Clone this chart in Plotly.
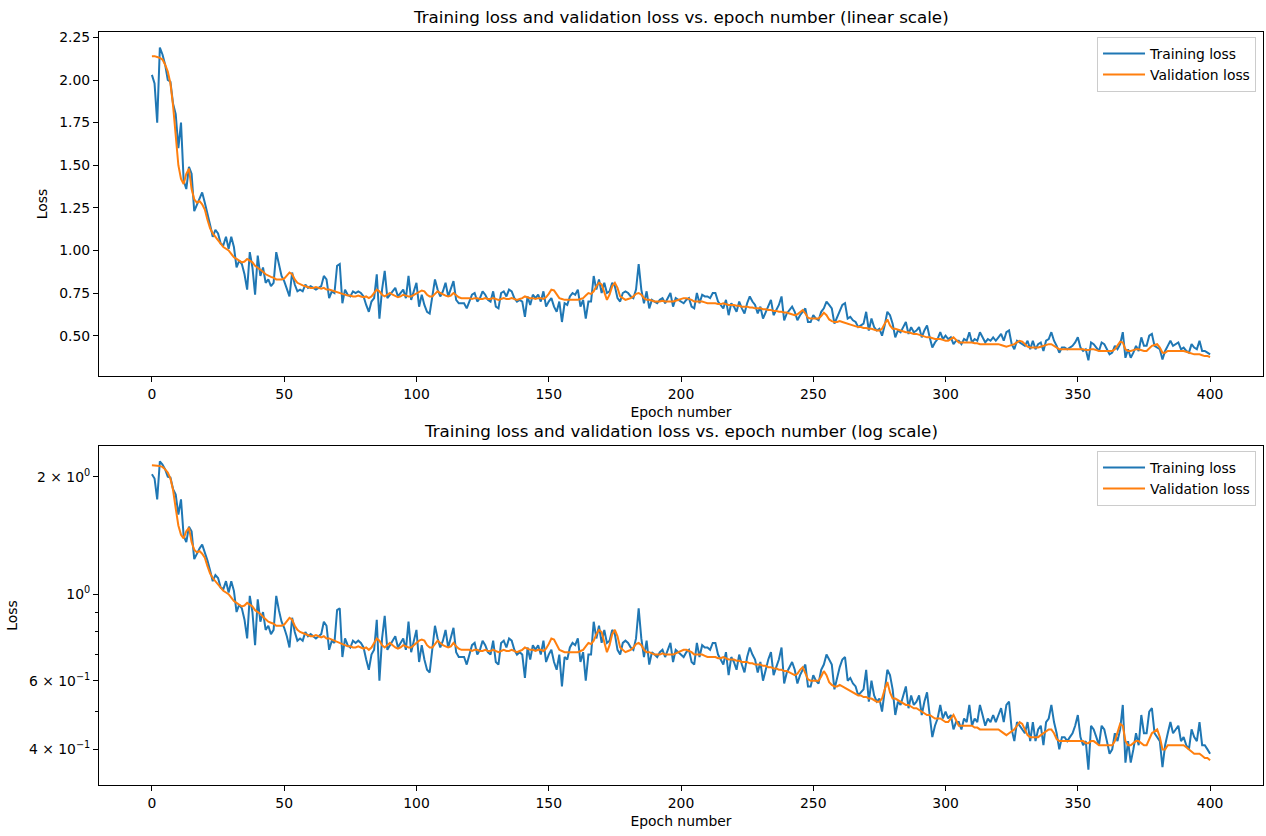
import math
import plotly.graph_objects as go

# Per-epoch loss values (epochs 0..400)
training_loss = [
    2.03, 1.98, 1.75, 2.19, 2.15, 2.09, 2.00, 1.99, 1.86, 1.80,
    1.60, 1.75, 1.41, 1.36, 1.49, 1.45, 1.23, 1.27, 1.31, 1.34,
    1.28, 1.22, 1.15, 1.08, 1.12, 1.10, 1.04, 1.03, 1.08, 1.01,
    1.08, 1.02, 0.90, 0.94, 0.92, 0.86, 0.77, 0.99, 0.90, 0.74,
    0.97, 0.85, 0.90, 0.81, 0.83, 0.79, 0.81, 0.99, 0.91, 0.85,
    0.82, 0.78, 0.73, 0.87, 0.80, 0.76, 0.77, 0.76, 0.80, 0.78,
    0.79, 0.78, 0.77, 0.78, 0.79, 0.85, 0.83, 0.72, 0.76, 0.75,
    0.91, 0.92, 0.69, 0.77, 0.74, 0.73, 0.76, 0.75, 0.76, 0.75,
    0.73, 0.68, 0.64, 0.70, 0.72, 0.86, 0.60, 0.77, 0.88, 0.72,
    0.74, 0.76, 0.78, 0.73, 0.75, 0.77, 0.72, 0.85, 0.71, 0.76,
    0.81, 0.67, 0.74, 0.68, 0.64, 0.63, 0.72, 0.83, 0.77, 0.73,
    0.76, 0.81, 0.73, 0.77, 0.82, 0.71, 0.69, 0.69, 0.69, 0.66,
    0.70, 0.74, 0.75, 0.70, 0.72, 0.76, 0.74, 0.71, 0.70, 0.76,
    0.67, 0.66, 0.75, 0.76, 0.73, 0.77, 0.76, 0.72, 0.70, 0.71,
    0.70, 0.61, 0.73, 0.68, 0.74, 0.72, 0.74, 0.70, 0.76, 0.67,
    0.70, 0.72, 0.67, 0.64, 0.70, 0.58, 0.69, 0.68, 0.73, 0.75,
    0.74, 0.77, 0.67, 0.71, 0.60, 0.70, 0.70, 0.85, 0.77, 0.83,
    0.75, 0.81, 0.75, 0.76, 0.81, 0.79, 0.72, 0.70, 0.75, 0.76,
    0.75, 0.73, 0.72, 0.77, 0.92, 0.77, 0.69, 0.76, 0.66, 0.71,
    0.70, 0.69, 0.71, 0.72, 0.69, 0.72, 0.75, 0.67, 0.72, 0.71,
    0.70, 0.69, 0.71, 0.72, 0.67, 0.66, 0.75, 0.69, 0.74, 0.73,
    0.73, 0.72, 0.75, 0.75, 0.70, 0.68, 0.66, 0.71, 0.62, 0.69,
    0.67, 0.64, 0.70, 0.66, 0.63, 0.69, 0.73, 0.70, 0.68, 0.63,
    0.67, 0.60, 0.64, 0.68, 0.71, 0.62, 0.65, 0.68, 0.73, 0.59,
    0.63, 0.65, 0.67, 0.64, 0.59, 0.62, 0.64, 0.66, 0.58, 0.58,
    0.62, 0.60, 0.59, 0.64, 0.66, 0.70, 0.68, 0.66, 0.57, 0.61,
    0.65, 0.68, 0.69, 0.60, 0.61, 0.59, 0.58, 0.55, 0.56, 0.57,
    0.64, 0.53, 0.60, 0.55, 0.53, 0.54, 0.50, 0.56, 0.64, 0.62,
    0.57, 0.49, 0.53, 0.52, 0.55, 0.58, 0.51, 0.55, 0.52, 0.53,
    0.55, 0.49, 0.53, 0.56, 0.49, 0.43, 0.46, 0.48, 0.52, 0.48,
    0.50, 0.48, 0.49, 0.45, 0.47, 0.47, 0.45, 0.48, 0.47, 0.52,
    0.46, 0.48, 0.47, 0.52, 0.49, 0.46, 0.48, 0.47, 0.49, 0.47,
    0.49, 0.51, 0.47, 0.52, 0.53, 0.45, 0.42, 0.47, 0.46, 0.45,
    0.44, 0.47, 0.42, 0.47, 0.42, 0.45, 0.46, 0.41, 0.47, 0.48,
    0.52, 0.47, 0.44, 0.40, 0.43, 0.43, 0.42, 0.43, 0.44, 0.46,
    0.49, 0.43, 0.41, 0.42, 0.355, 0.46, 0.45, 0.43, 0.41, 0.46,
    0.45, 0.42, 0.39, 0.40, 0.44, 0.42, 0.45, 0.52, 0.37, 0.42,
    0.37, 0.40, 0.44, 0.41, 0.49, 0.44, 0.44, 0.50, 0.51, 0.44,
    0.43, 0.42, 0.36, 0.41, 0.44, 0.47, 0.44, 0.45, 0.46, 0.42,
    0.43, 0.41, 0.40, 0.45, 0.43, 0.42, 0.47, 0.41, 0.41, 0.40,
    0.39,
]

validation_loss = [
    2.14, 2.14, 2.135, 2.13, 2.12, 2.09, 2.05, 1.98, 1.85, 1.66,
    1.50, 1.42, 1.39, 1.45, 1.48, 1.36, 1.30, 1.28, 1.29, 1.27,
    1.24, 1.18, 1.13, 1.10, 1.08, 1.06, 1.04, 1.02, 1.01, 1.00,
    0.98, 0.96, 0.95, 0.94, 0.93, 0.935, 0.95, 0.94, 0.93, 0.91,
    0.90, 0.89, 0.875, 0.86, 0.85, 0.845, 0.84, 0.83, 0.83, 0.83,
    0.835, 0.85, 0.87, 0.86, 0.83, 0.81, 0.80, 0.795, 0.79, 0.785,
    0.78, 0.78, 0.785, 0.78, 0.775, 0.78, 0.77, 0.77, 0.765, 0.76,
    0.755, 0.75, 0.745, 0.74, 0.735, 0.735, 0.73, 0.73, 0.735, 0.73,
    0.725, 0.73, 0.72, 0.73, 0.75, 0.77, 0.76, 0.74, 0.73, 0.74,
    0.75, 0.74, 0.73, 0.725, 0.73, 0.74, 0.735, 0.73, 0.73, 0.74,
    0.75, 0.76, 0.765, 0.76, 0.74, 0.73, 0.73, 0.745, 0.76, 0.75,
    0.74, 0.735, 0.73, 0.735, 0.75, 0.735, 0.725, 0.72, 0.72, 0.72,
    0.72, 0.715, 0.72, 0.72, 0.715, 0.715, 0.72, 0.715, 0.715, 0.72,
    0.715, 0.71, 0.715, 0.72, 0.715, 0.715, 0.72, 0.715, 0.71, 0.715,
    0.72, 0.73, 0.725, 0.72, 0.72, 0.715, 0.72, 0.72, 0.715, 0.725,
    0.745, 0.77, 0.765, 0.74, 0.72, 0.715, 0.71, 0.71, 0.71, 0.71,
    0.71, 0.71, 0.715, 0.72, 0.735, 0.75, 0.745, 0.76, 0.79, 0.81,
    0.80, 0.75, 0.71, 0.74, 0.79, 0.81, 0.78, 0.73, 0.72, 0.71,
    0.715, 0.72, 0.73, 0.745, 0.75, 0.74, 0.72, 0.71, 0.71, 0.705,
    0.70, 0.70, 0.70, 0.705, 0.70, 0.70, 0.70, 0.70, 0.705, 0.71,
    0.715, 0.72, 0.72, 0.715, 0.71, 0.70, 0.70, 0.70, 0.70, 0.695,
    0.69, 0.69, 0.69, 0.69, 0.685, 0.685, 0.69, 0.685, 0.68, 0.68,
    0.68, 0.675, 0.675, 0.67, 0.67, 0.67, 0.665, 0.665, 0.66, 0.66,
    0.66, 0.655, 0.655, 0.65, 0.65, 0.645, 0.645, 0.64, 0.64, 0.635,
    0.635, 0.63, 0.625, 0.62, 0.625, 0.64, 0.65, 0.63, 0.605, 0.60,
    0.60, 0.60, 0.60, 0.615, 0.635, 0.62, 0.595, 0.585, 0.58, 0.58,
    0.585, 0.58, 0.575, 0.57, 0.565, 0.56, 0.555, 0.55, 0.55, 0.545,
    0.545, 0.54, 0.54, 0.535, 0.53, 0.53, 0.54, 0.57, 0.595, 0.56,
    0.54, 0.54, 0.535, 0.53, 0.525, 0.52, 0.52, 0.515, 0.51, 0.51,
    0.505, 0.50, 0.495, 0.49, 0.49, 0.485, 0.48, 0.48, 0.48, 0.475,
    0.47, 0.47, 0.48, 0.49, 0.475, 0.46, 0.46, 0.46, 0.46, 0.46,
    0.46, 0.455, 0.455, 0.45, 0.45, 0.45, 0.45, 0.45, 0.45, 0.45,
    0.45, 0.445, 0.44, 0.435, 0.44, 0.445, 0.45, 0.46, 0.47, 0.465,
    0.45, 0.435, 0.43, 0.43, 0.43, 0.43, 0.435, 0.44, 0.445, 0.45,
    0.45, 0.44, 0.425, 0.42, 0.42, 0.42, 0.42, 0.42, 0.42, 0.42,
    0.42, 0.42, 0.42, 0.415, 0.415, 0.42, 0.42, 0.415, 0.41, 0.41,
    0.41, 0.41, 0.41, 0.41, 0.42, 0.44, 0.465, 0.46, 0.42, 0.41,
    0.41, 0.415, 0.42, 0.42, 0.415, 0.41, 0.41, 0.425, 0.44, 0.445,
    0.45, 0.43, 0.40, 0.40, 0.41, 0.41, 0.41, 0.41, 0.41, 0.41,
    0.41, 0.405, 0.40, 0.395, 0.39, 0.39, 0.39, 0.385, 0.38, 0.38,
    0.375,
]

epochs = list(range(len(training_loss)))

x_tick_values = [0, 50, 100, 150, 200, 250, 300, 350, 400]
linear_tick_values = [0.50, 0.75, 1.00, 1.25, 1.50, 1.75, 2.00, 2.25]
log_tick_values = [0.4, 0.6, 1.0, 2.0]
log_tick_labels = [
    "4 × 10<sup>−1</sup>",
    "6 × 10<sup>−1</sup>",
    "10<sup>0</sup>",
    "2 × 10<sup>0</sup>",
]
log_minor_values = [0.5, 0.7, 0.8, 0.9]

title_linear = "Training loss and validation loss vs. epoch number (linear scale)"
title_log = "Training loss and validation loss vs. epoch number (log scale)"

BLUE = "#1f77b4"
ORANGE = "#ff7f0e"
FONT = "DejaVu Sans"
TICK_SIZE = 13.9
TITLE_SIZE = 16.7

# Autoscale limits with a 5% margin on each side
all_values = training_loss + validation_loss
lo, hi = min(all_values), max(all_values)
pad = 0.05 * (hi - lo)
lin_range = [lo - pad, hi + pad]
llo, lhi = math.log10(lo), math.log10(hi)
lpad = 0.05 * (lhi - llo)
log_range = [llo - lpad, lhi + lpad]
xpad = 0.05 * (epochs[-1] - epochs[0])
x_range = [epochs[0] - xpad, epochs[-1] + xpad]

TOP_DOMAIN = [0.5432, 1.0]
BOTTOM_DOMAIN = [0.0, 0.4502]

fig = go.Figure()

for xa, ya, leg in (("x", "y", "legend"), ("x2", "y2", "legend2")):
    fig.add_trace(go.Scatter(
        x=epochs, y=training_loss, mode="lines", name="Training loss",
        line=dict(color=BLUE, width=2), xaxis=xa, yaxis=ya, legend=leg,
    ))
    fig.add_trace(go.Scatter(
        x=epochs, y=validation_loss, mode="lines", name="Validation loss",
        line=dict(color=ORANGE, width=2), xaxis=xa, yaxis=ya, legend=leg,
    ))

axis_style = dict(
    showline=True, mirror=True, linecolor="black", linewidth=1,
    ticks="outside", ticklen=5, tickwidth=1, tickcolor="black",
    showgrid=False, zeroline=False, automargin=False,
    tickfont=dict(family=FONT, size=TICK_SIZE, color="black"),
)
axis_title_font = dict(family=FONT, size=TICK_SIZE, color="black")

legend_style = dict(
    xanchor="right", yanchor="top", itemwidth=42,
    bgcolor="rgba(255,255,255,0.8)", bordercolor="#cccccc", borderwidth=1,
    font=dict(family=FONT, size=TICK_SIZE, color="black"),
)

fig.update_layout(
    width=1266, height=836,
    margin=dict(l=99, r=3, t=32, b=51),
    paper_bgcolor="white", plot_bgcolor="white",
    font=dict(family=FONT, size=TICK_SIZE, color="black"),
    xaxis=dict(
        **axis_style, domain=[0, 1], anchor="y", range=x_range,
        tickvals=x_tick_values,
        title=dict(text="Epoch number", font=axis_title_font, standoff=6),
    ),
    yaxis=dict(
        **axis_style, domain=TOP_DOMAIN, anchor="x", range=lin_range,
        tickvals=linear_tick_values, tickformat=".2f",
        title=dict(text="Loss", font=axis_title_font, standoff=8),
    ),
    xaxis2=dict(
        **axis_style, domain=[0, 1], anchor="y2", range=x_range,
        tickvals=x_tick_values,
        title=dict(text="Epoch number", font=axis_title_font, standoff=6),
    ),
    yaxis2=dict(
        **axis_style, domain=BOTTOM_DOMAIN, anchor="x2", type="log",
        range=log_range, tickvals=log_tick_values, ticktext=log_tick_labels,
        minor=dict(tickvals=log_minor_values, ticklen=3, tickwidth=1,
                   tickcolor="black", ticks="outside"),
        title=dict(text="Loss", font=axis_title_font, standoff=8),
    ),
    legend=dict(x=0.994, y=0.9934, **legend_style),
    legend2=dict(x=0.994, y=0.4436, **legend_style),
    annotations=[
        dict(text=title_linear, x=0.5, y=TOP_DOMAIN[1], xref="paper", yref="paper",
             xanchor="center", yanchor="bottom", yshift=3, showarrow=False,
             font=dict(family=FONT, size=TITLE_SIZE, color="black")),
        dict(text=title_log, x=0.5, y=BOTTOM_DOMAIN[1], xref="paper", yref="paper",
             xanchor="center", yanchor="bottom", yshift=3, showarrow=False,
             font=dict(family=FONT, size=TITLE_SIZE, color="black")),
    ],
)

fig.write_html("out.html", config={"displayModeBar": False})
